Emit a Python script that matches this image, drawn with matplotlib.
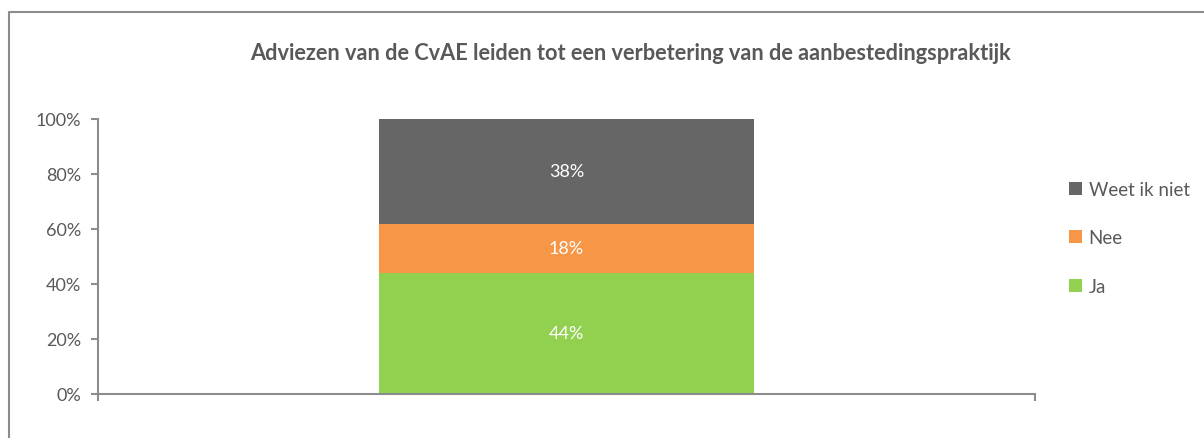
import numpy as np
import matplotlib.pyplot as plt
from matplotlib.lines import Line2D
from matplotlib.patches import Patch

# Data
categories = [""]
series_names = ["Ja", "Nee", "Weet ik niet"]
series_values = [[44], [18], [38]]
series_colors = ["#92D050", "#F79646", "#666666"]
yticks = [0, 20, 40, 60, 80, 100]
title = "Adviezen van de CvAE leiden tot een verbetering van de aanbestedingspraktijk"

plt.rcParams["font.family"] = ["Lato", "DejaVu Sans"]
text_color = "#595959"
axis_color = "#8c8c8c"

W, H = 1204, 439
fig = plt.figure(figsize=(W / 100, H / 100), dpi=100)

# outer chart border: only top and left edges fall inside the image
fig.lines.append(Line2D([9 / W, 9 / W, 1.1], [-0.1, 1 - 13 / H, 1 - 13 / H],
                        transform=fig.transFigure, color=axis_color, lw=1.5))

ax = fig.add_axes([98 / W, 1 - 395 / H, (1035 - 98) / W, (395 - 120) / H])

x = np.arange(len(categories))
bottom = np.zeros(len(categories))
handles = []
for name, vals, col in zip(series_names, series_values, series_colors):
    vals = np.array(vals, dtype=float)
    ax.bar(x, vals, 0.4, bottom=bottom, color=col)
    for xi, b, v in zip(x, bottom, vals):
        ax.text(xi, b + v / 2, f"{v:.0f}%", ha="center", va="center",
                color="white", fontsize=13)
    bottom += vals
    handles.append(Patch(facecolor=col, label=name))

ax.set_xlim(-0.5, 0.5)
ax.set_ylim(0, 100)
ax.set_yticks(yticks)
ax.set_yticklabels([f"{t}%" for t in yticks], color=text_color, fontsize=13)
ax.set_xticks([-0.5, 0.5])
ax.set_xticklabels([])
ax.tick_params(axis="both", color=axis_color, length=5, width=1.5, direction="out")
ax.tick_params(axis="y", pad=7)
for s in ["top", "right"]:
    ax.spines[s].set_visible(False)
for s in ["left", "bottom"]:
    ax.spines[s].set_color(axis_color)
    ax.spines[s].set_linewidth(1.5)

fig.text(630 / W, 1 - 53 / H, title, ha="center", va="center",
         fontsize=15.7, fontweight="bold", color=text_color)

leg = fig.legend(handles=handles[::-1], loc="upper left",
                 bbox_to_anchor=(1052 / W, 1 - 165 / H), frameon=False,
                 handlelength=0.7, handleheight=0.7, handletextpad=0.35,
                 labelspacing=1.68, fontsize=13.5)
for t in leg.get_texts():
    t.set_color(text_color)

fig.savefig("out.png", dpi=100)
